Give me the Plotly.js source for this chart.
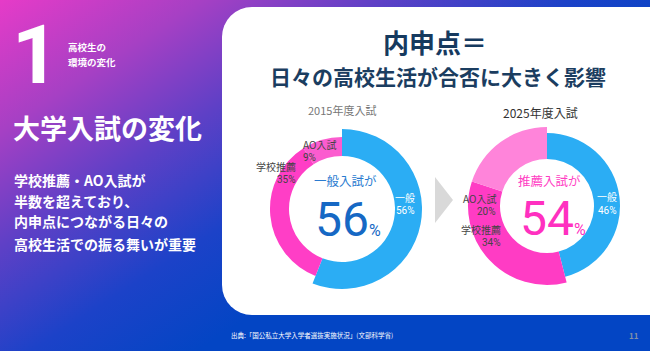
<!DOCTYPE html>
<html><head><meta charset="utf-8">
<script src="https://cdn.plot.ly/plotly-3.0.1.min.js"></script>
<style>
html,body{margin:0;padding:0;width:650px;height:351px;overflow:hidden;}
body{background:linear-gradient(147deg,#e63bc8 0%,#a640c4 17%,#5e40c6 32%,#1c42c8 48%,#0345c4 62%,#0345c4 100%);position:relative;font-family:"Noto Sans CJK JP",sans-serif;}
#card{position:absolute;left:222px;top:7px;width:460px;height:308px;background:#fff;border-radius:30px;}
#chart{position:absolute;left:0;top:0;width:650px;height:351px;}
</style></head>
<body><div id="card"></div><div id="chart"></div>
<script>
// ---- data ----
const categories = ['一般', '学校推薦', 'AO入試'];
const values2015 = [56, 35, 9];
const values2025 = [46, 34, 20];
const years = ['2015年度入試', '2025年度入試'];
const centerLabels = ['一般入試が', '推薦入試が'];
const centerValues = [56, 54];
const pageNo = '11';
const leftNumber = '1';
const leftSub = ['高校生の', '環境の変化'];
const leftTitle = '大学入試の変化';
const bodyLines = ['学校推薦・AO入試が', '半数を超えており、', '内申点につながる日々の', '高校生活での振る舞いが重要'];
const mainTitle = ['内申点＝', '日々の高校生活が合否に大きく影響'];
const source = '出典:「国公私立大学入学者選抜実施状況」(文部科学省)';

// ---- layout helpers ----
const W = 650, H = 351;
const FONT = '"Noto Sans CJK JP", "Noto Sans", sans-serif';
const NUM = 'Roboto, "Noto Sans", sans-serif';
const px = x => x / W, py = y => 1 - y / H;
function dom(cx, cy, r) { return {x: [px(cx - r), px(cx + r)], y: [py(cy + r), py(cy - r)]}; }
const T = 'rgba(0,0,0,0)';
const BLUE = '#2badf4';

function pie(vals, colors, cx, cy, r, inner) {
  return {type: 'pie', values: vals, labels: categories, sort: false, direction: 'clockwise', rotation: 0,
    marker: {colors: colors, line: {width: 0}}, hole: inner / r, textinfo: 'none', hoverinfo: 'skip',
    domain: dom(cx, cy, r), showlegend: false};
}

const C1 = {x: 342, y: 209}, C2 = {x: 547, y: 206};
const data = [
  pie(values2015, [BLUE, T, T], C1.x, C1.y, 80, 53),
  pie(values2015, [T, '#ff3ec6', '#fb5ccf'], C1.x, C1.y, 72, 53),
  pie(values2025, [BLUE, T, T], C2.x, C2.y, 73, 47),
  pie(values2025, [T, '#ff3cc4', '#ff84da'], C2.x, C2.y, 79, 47)
];

function ann(text, x, y, size, color, opts, fam) {
  return Object.assign({text: text, x: px(x), y: py(y), xref: 'paper', yref: 'paper', showarrow: false,
    xanchor: 'center', yanchor: 'middle', borderpad: 0,
    font: {family: fam || FONT, size: size, color: color}}, opts || {});
}
const b = s => '<b>' + s + '</b>';
// two-line slice label: category name over percentage
function lbl(i, v, x, y, anchor, color) {
  return [
    ann(categories[i], x, y - 6.75, 10, color, {xanchor: anchor}),
    ann(v + '%', x, y + 6.75, 10, color, {xanchor: anchor}, NUM)
  ];
}

const annotations = [
  ann(b(leftNumber), 35, 55, 82, '#fff', {}, 'Roboto, sans-serif'),
  ann(b(leftSub[0]), 67, 47, 9.5, '#fff', {xanchor: 'left'}),
  ann(b(leftSub[1]), 67, 62, 9.5, '#fff', {xanchor: 'left'}),
  ann(b(leftTitle), 12, 127, 27, '#fff', {xanchor: 'left'}),
  ...bodyLines.map((t, i) => ann(b(t), 13, [180, 200.5, 221, 244][i], 14, '#fff', {xanchor: 'left'})),
  ann(b(mainTitle[0]), 435, 41.5, 26, '#163a5f'),
  ann(b(mainTitle[1]), 438, 75.5, 21, '#1b3d60'),
  ann(years[0], 342, 110, 11, '#777'),
  ann(years[1], 540, 112, 12, '#333'),
  // chart 1 labels
  ...lbl(2, values2015[2], 302, 151, 'left', '#444'),
  ...lbl(1, values2015[1], 297, 173, 'right', '#444'),
  ...lbl(0, values2015[0], 405, 204, 'center', '#fff'),
  ann(centerLabels[0], 346, 180.5, 12.5, '#2a7bd0'),
  ann(centerValues[0] + '<span style="font-size:16px">%</span>', 347.5, 219.5, 48, '#1668c4', {}, NUM),
  // chart 2 labels
  ...lbl(2, values2025[2], 497, 205, 'right', '#444'),
  ...lbl(1, values2025[1], 502, 236, 'right', '#444'),
  ...lbl(0, values2025[0], 607, 203.5, 'center', '#fff'),
  ann(centerLabels[1], 549, 180.5, 12.5, '#ff3dc3'),
  ann(centerValues[1] + '<span style="font-size:16px">%</span>', 552.5, 218, 48, '#ff30c0', {}, NUM),
  // footer
  ann(source, 230, 335, 6.5, '#fff', {xanchor: 'left'}),
  ann(b(pageNo), 633.5, 335, 8, '#8090a8')
];

const shapes = [
  {type: 'path', xref: 'paper', yref: 'paper',
   path: `M ${px(435)} ${py(177)} L ${px(453)} ${py(200)} L ${px(435)} ${py(223)} Z`,
   fillcolor: '#d9d9d9', line: {width: 0}}
];

Plotly.newPlot('chart', data, {
  width: W, height: H, margin: {l: 0, r: 0, t: 0, b: 0},
  paper_bgcolor: 'rgba(0,0,0,0)', plot_bgcolor: 'rgba(0,0,0,0)',
  annotations: annotations, shapes: shapes, showlegend: false
}, {displayModeBar: false, staticPlot: true});
</script></body></html>
